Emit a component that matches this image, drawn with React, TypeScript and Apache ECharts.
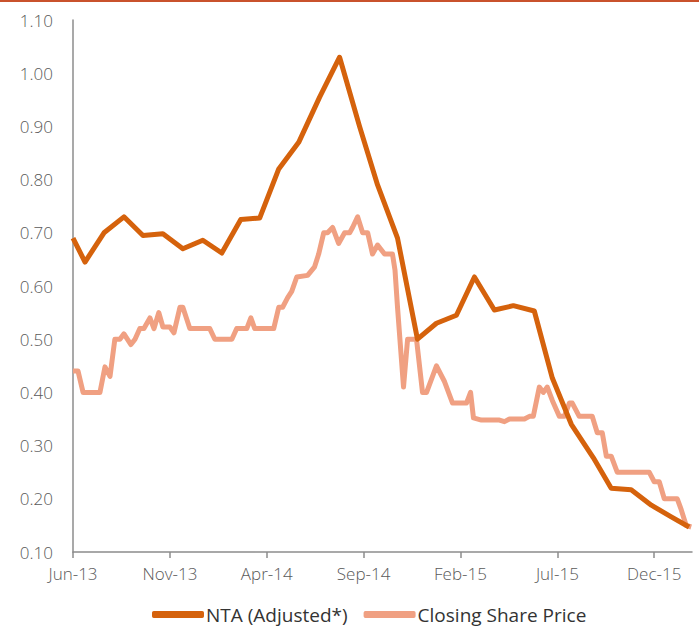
import React, { useEffect, useRef } from "react";
import * as echarts from "echarts";

// x values are months elapsed since June 2013
const tickLabels = ["Jun-13", "Nov-13", "Apr-14", "Sep-14", "Feb-15", "Jul-15", "Dec-15"];

const ntaMonths = [0, 0.62, 1.6, 2.63, 3.61, 4.64, 5.67, 6.7, 7.68, 8.66, 9.64, 10.62, 11.65, 12.73, 13.76, 14.79, 15.72, 16.75, 17.78, 18.76, 19.79, 20.72, 21.75, 22.73, 23.81, 24.74, 25.72, 26.86, 27.78, 28.81, 29.85, 30.88, 31.8];
const ntaValues = [0.69, 0.645, 0.70, 0.73, 0.695, 0.698, 0.67, 0.686, 0.662, 0.725, 0.728, 0.82, 0.87, 0.955, 1.03, 0.90, 0.79, 0.69, 0.50, 0.53, 0.545, 0.617, 0.555, 0.563, 0.553, 0.427, 0.34, 0.277, 0.22, 0.217, 0.188, 0.166, 0.147];

const priceMonths = [0, 0.26, 0.52, 1.39, 1.65, 1.91, 2.16, 2.42, 2.63, 2.99, 3.2, 3.45, 3.66, 3.97, 4.18, 4.43, 4.64, 5.0, 5.21, 5.52, 5.67, 6.03, 7.06, 7.32, 8.2, 8.45, 8.97, 9.18, 9.38, 10.36, 10.62, 10.82, 11.08, 11.29, 11.55, 12.11, 12.47, 12.68, 12.94, 13.14, 13.4, 13.71, 14.02, 14.28, 14.43, 14.69, 14.95, 15.21, 15.46, 15.72, 16.08, 16.49, 16.62, 16.75, 17.06, 17.27, 17.73, 18.04, 18.25, 18.76, 19.18, 19.59, 20.31, 20.52, 20.67, 21.08, 22.01, 22.27, 22.53, 23.3, 23.56, 23.76, 24.07, 24.28, 24.48, 24.74, 25.1, 25.36, 25.62, 25.77, 26.13, 26.8, 27.06, 27.32, 27.53, 27.78, 28.09, 29.74, 30.0, 30.26, 30.52, 31.19, 31.39, 31.65, 31.91];
const priceValues = [0.44, 0.44, 0.40, 0.40, 0.448, 0.43, 0.50, 0.50, 0.51, 0.49, 0.50, 0.52, 0.52, 0.54, 0.52, 0.55, 0.523, 0.523, 0.512, 0.56, 0.56, 0.52, 0.52, 0.50, 0.50, 0.52, 0.52, 0.54, 0.52, 0.52, 0.56, 0.56, 0.578, 0.59, 0.617, 0.62, 0.636, 0.66, 0.70, 0.70, 0.71, 0.68, 0.70, 0.70, 0.71, 0.73, 0.70, 0.70, 0.66, 0.677, 0.66, 0.66, 0.63, 0.56, 0.41, 0.50, 0.50, 0.40, 0.40, 0.45, 0.42, 0.38, 0.38, 0.40, 0.352, 0.348, 0.348, 0.345, 0.35, 0.35, 0.355, 0.355, 0.41, 0.40, 0.41, 0.385, 0.355, 0.355, 0.38, 0.38, 0.355, 0.355, 0.324, 0.324, 0.28, 0.28, 0.25, 0.25, 0.232, 0.232, 0.20, 0.20, 0.18, 0.15, 0.147];

const ntaData = ntaMonths.map((m, i) => [m, ntaValues[i]]);
const priceData = priceMonths.map((m, i) => [m, priceValues[i]]);

const FONT = "'Open Sans', 'Noto Sans', sans-serif";

export default function App() {
  const ref = useRef<HTMLDivElement>(null);
  useEffect(() => {
    if (!ref.current) return;
    const chart = echarts.init(ref.current, undefined, { renderer: "svg" });
    chart.setOption({
      animation: false,
      backgroundColor: "#ffffff",
      graphic: [
        {
          type: "rect",
          left: 0,
          top: 0,
          shape: { x: 0, y: 0, width: 699, height: 2 },
          style: { fill: "#c9522c" },
          z: 100,
        },
      ],
      grid: { left: 73, right: 7, top: 20, bottom: 78, containLabel: false },
      legend: {
        bottom: 1,
        left: 147,
        data: ["NTA (Adjusted*)", "Closing Share Price"],
        icon: "roundRect",
        itemWidth: 52,
        itemHeight: 7,
        itemGap: 16,
        textStyle: { fontFamily: FONT, fontSize: 19, fontWeight: 400, color: "#333333", padding: [0, 0, 0, -3] },
      },
      xAxis: {
        type: "value",
        min: 0,
        max: 31.95,
        interval: 5,
        axisLine: { show: true, lineStyle: { color: "#8c8c8c", width: 1.5 } },
        axisTick: { show: true, length: 6, lineStyle: { color: "#8c8c8c", width: 1.5 } },
        splitLine: { show: false },
        axisLabel: {
          showMaxLabel: false,
          margin: 13,
          fontFamily: FONT,
          fontSize: 17,
          fontWeight: 300,
          color: "#595959",
          formatter: (v: number) => tickLabels[Math.round(v / 5)] ?? "",
        },
      },
      yAxis: {
        type: "value",
        min: 0.1,
        max: 1.1,
        interval: 0.1,
        axisLine: { show: true, lineStyle: { color: "#8c8c8c", width: 1.5 } },
        axisTick: { show: false },
        splitLine: {
          show: true,
          lineStyle: {
            color: "#8c8c8c",
            width: 1.5,
            shadowColor: "rgba(0,0,0,0.12)",
            shadowOffsetY: 1.5,
            shadowBlur: 1,
          },
        },
        axisLabel: {
          margin: 20,
          fontFamily: FONT,
          fontSize: 17,
          fontWeight: 300,
          color: "#595959",
          formatter: (v: number) => v.toFixed(2),
        },
      },
      series: [
        {
          name: "Closing Share Price",
          type: "line",
          data: priceData,
          showSymbol: false,
          symbol: "none",
          lineStyle: { color: "#f0a082", width: 5, join: "round" },
          itemStyle: { color: "#f0a082" },
          z: 2,
        },
        {
          name: "NTA (Adjusted*)",
          type: "line",
          data: ntaData,
          showSymbol: false,
          symbol: "none",
          lineStyle: { color: "#d5620c", width: 5, join: "round" },
          itemStyle: { color: "#d5620c" },
          z: 3,
        },
      ],
    });
    return () => chart.dispose();
  }, []);
  return (
    <div
      ref={ref}
      style={{ position: "absolute", left: 0, top: 0, width: 699, height: 630 }}
    />
  );
}
